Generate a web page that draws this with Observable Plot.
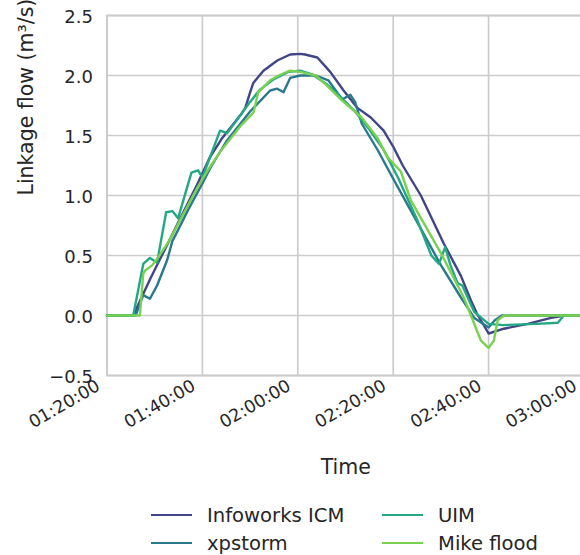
<!DOCTYPE html>
<html>
<head>
<meta charset="utf-8">
<script src="https://cdn.jsdelivr.net/npm/d3@7"></script>
<script src="https://cdn.jsdelivr.net/npm/@observablehq/plot@0.6"></script>
<style>
  html, body { margin: 0; padding: 0; background: #fff; }
  #wrap { position: relative; width: 580px; height: 555px; overflow: hidden; font-family: "DejaVu Sans", sans-serif; color: #262626; }
  #legend { position: absolute; left: 0; top: 0; width: 580px; height: 555px; pointer-events: none; }
  .item { position: absolute; height: 24px; display: flex; align-items: center; font-size: 19.6px; white-space: nowrap; }
  .swatch { display: inline-block; width: 41px; height: 2.5px; margin-right: 15px; }
</style>
</head>
<body>
<div id="wrap"><div id="chart"></div><div id="legend"></div></div>
<script>
// ---- data (time in minutes after midnight, flow in m³/s) ----
const seriesNames = ["Infoworks ICM", "xpstorm", "UIM", "Mike flood"];
const seriesColors = ["#414487", "#2a788e", "#22a884", "#7ad151"];

const infoworksTime = [80, 85.5, 87, 89, 91, 93, 95, 97, 99, 101.6, 104, 106, 108, 109, 110, 110.7, 112.8, 115.7, 118.4, 120.5, 121.5, 124.1, 126.8, 129.6, 132.5, 135.3, 138, 140.1, 142, 145.8, 150.6, 154.2, 156.3, 157.5, 160, 163.2, 168.2, 173.1, 176, 180];
const infoworksFlow = [0, 0, 0.13, 0.3, 0.46, 0.62, 0.78, 0.94, 1.1, 1.32, 1.47, 1.57, 1.67, 1.73, 1.86, 1.94, 2.04, 2.125, 2.175, 2.18, 2.175, 2.15, 2.03, 1.875, 1.73, 1.65, 1.54, 1.4, 1.25, 1.0, 0.6, 0.33, 0.125, 0.02, -0.15, -0.11, -0.07, -0.02, 0, 0];

const xpstormTime = [80, 86, 87.6, 89, 90.5, 92.6, 93.7, 95, 97, 100, 101.6, 105, 110, 114.2, 115.7, 117, 118.4, 120.5, 123.8, 126.4, 129.3, 131, 132, 133.4, 136.8, 140, 145, 150, 154.2, 157, 160, 161.3, 162.8, 180];
const xpstormFlow = [0, 0, 0.17, 0.14, 0.25, 0.46, 0.62, 0.72, 0.88, 1.1, 1.225, 1.45, 1.7, 1.875, 1.89, 1.86, 1.98, 2.0, 2.0, 1.96, 1.8, 1.84, 1.78, 1.6, 1.375, 1.14, 0.78, 0.42, 0.15, -0.02, -0.1, -0.04, 0, 0];

const uimTime = [80, 85.5, 87.6, 89, 90.5, 92.4, 93.7, 94.9, 97.7, 99.1, 100, 103.7, 105.2, 108, 110, 112, 115, 118, 120.5, 123, 126, 129, 132, 135, 138, 141, 145, 148, 149.6, 150.9, 152, 153.5, 154.5, 157, 160, 163, 170, 174.5, 175.8, 180];
const uimFlow = [0, 0, 0.43, 0.48, 0.44, 0.86, 0.87, 0.81, 1.19, 1.21, 1.15, 1.54, 1.52, 1.67, 1.78, 1.88, 1.97, 2.03, 2.04, 2.01, 1.93, 1.82, 1.7, 1.55, 1.38, 1.15, 0.8, 0.5, 0.43, 0.57, 0.42, 0.27, 0.25, 0.03, -0.07, -0.08, -0.07, -0.06, 0, 0];

const mikeTime = [80, 86.9, 87.6, 88, 89.5, 91, 93, 95, 97, 99, 101.6, 104, 106, 108, 110.7, 111.7, 114.2, 116, 118.4, 120.5, 123.8, 126, 129.3, 133.4, 136.7, 138.8, 141.6, 143.7, 150, 154.8, 158.4, 160, 161.1, 161.9, 163.2, 180];
const mikeFlow = [0, 0, 0.35, 0.375, 0.42, 0.5, 0.62, 0.77, 0.92, 1.07, 1.24, 1.38, 1.48, 1.58, 1.69, 1.86, 1.96, 2.0, 2.04, 2.03, 2.0, 1.92, 1.79, 1.65, 1.48, 1.32, 1.2, 0.96, 0.52, 0.15, -0.21, -0.27, -0.21, -0.04, 0, 0];

const xTicks = [80, 100, 120, 140, 160, 180];
const yTicks = [-0.5, 0, 0.5, 1, 1.5, 2, 2.5];
const xLabel = "Time";
const yLabel = "Linkage flow (m³/s)";

// ---- build table ----
const times = [infoworksTime, xpstormTime, uimTime, mikeTime];
const flows = [infoworksFlow, xpstormFlow, uimFlow, mikeFlow];
const rows = [];
seriesNames.forEach((name, i) => times[i].forEach((t, j) => rows.push({series: name, t, v: flows[i][j]})));

const pad = n => String(n).padStart(2, "0");
const fmtTime = m => `${pad(Math.floor(m / 60))}:${pad(m % 60)}:00`;
const fmtNum = d => d.toFixed(1).replace("-", "\u2212");

const grid = "#cccccc";
const ink = "#262626";

const chart = Plot.plot({
  width: 580,
  height: 485,
  marginLeft: 106.5,
  marginRight: 0,
  marginTop: 15,
  marginBottom: 110,
  x: {domain: [80, 179.27]},
  y: {domain: [-0.5, 2.5]},
  color: {domain: seriesNames, range: seriesColors},
  style: {fontFamily: "DejaVu Sans", color: ink, background: "#fff", overflow: "visible"},
  marks: [
    Plot.gridX(xTicks, {stroke: grid, strokeOpacity: 1, strokeWidth: 1.7}),
    Plot.gridY(yTicks, {stroke: grid, strokeOpacity: 1, strokeWidth: 1.7}),
    Plot.ruleY([-0.5, 2.5], {stroke: grid, strokeWidth: 2.1}),
    Plot.ruleX([80], {stroke: grid, strokeWidth: 2.1}),
    Plot.line(rows, {x: "t", y: "v", z: "series", stroke: "series", strokeWidth: 2.4, strokeLinejoin: "round", curve: "linear"}),
    Plot.axisY(yTicks, {tickSize: 0, tickPadding: 14, tickFormat: fmtNum, fontSize: 18, dy: 1.5, label: null, fill: ink}),
    Plot.axisX(xTicks, {tickSize: 0, tickPadding: 3, tickFormat: fmtTime, tickRotate: -30, textAnchor: "end", lineAnchor: "top", dx: -12, dy: 0, fontSize: 17.5, label: null, fill: ink}),
    Plot.text([xLabel], {frameAnchor: "bottom", dy: 98, dx: 2, fontSize: 20.5, fill: ink, text: d => d}),
    Plot.text([yLabel], {frameAnchor: "left", dx: -81, rotate: -90, fontSize: 20.5, fill: ink, text: d => d})
  ]
});
document.getElementById("chart").appendChild(chart);

// ---- legend (two columns, column-major order) ----
const legend = document.getElementById("legend");
const positions = [[151, 503], [151, 531], [382, 503], [382, 531]];
seriesNames.forEach((name, i) => {
  const item = document.createElement("div");
  item.className = "item";
  item.style.left = positions[i][0] + "px";
  item.style.top = positions[i][1] + "px";
  const sw = document.createElement("span");
  sw.className = "swatch";
  sw.style.background = seriesColors[i];
  const tx = document.createElement("span");
  tx.textContent = name;
  item.appendChild(sw);
  item.appendChild(tx);
  legend.appendChild(item);
});
</script>
</body>
</html>
